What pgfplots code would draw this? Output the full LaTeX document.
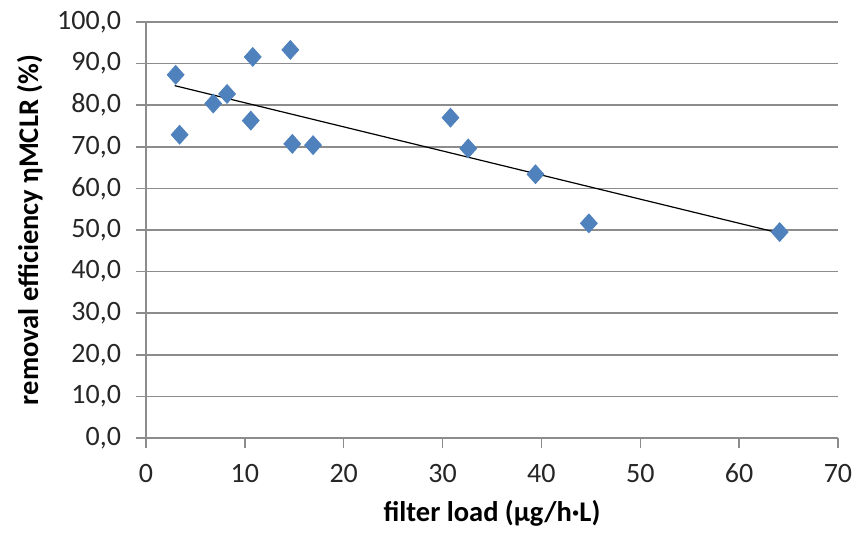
\documentclass[border=0pt]{standalone}
\usepackage{fontspec}
\setmainfont{Carlito}
\usepackage{pgfplots}
\pgfplotsset{compat=1.18}
\definecolor{mkblue}{HTML}{4F81BD}
\definecolor{gridgray}{HTML}{8C8C8C}
\begin{document}
\begin{tikzpicture}
\useasboundingbox (-73pt,-47.5pt) rectangle (358.5pt,219pt);
\begin{axis}[
  at={(0,0)}, anchor=south west,
  scale only axis, width=346pt, height=208pt,
  xmin=0, xmax=70, ymin=0, ymax=100,
  xtick={0,10,...,70}, ytick={0,10,...,100},
  axis x line*=bottom, axis y line*=left,
  axis line style={gridgray, line width=0.75pt, -},
  ymajorgrids, grid style={gridgray, line width=0.75pt},
  tick align=outside, major tick length=5pt,
  tick style={gridgray, line width=0.75pt},
  /pgf/number format/assume math mode=true,
  yticklabel style={/pgf/number format/.cd, fixed, fixed zerofill, precision=1, use comma, /tikz/.cd, xshift=-4pt},
  xticklabel style={/pgf/number format/.cd, fixed, precision=0, /tikz/.cd, yshift=-4.5pt},
  ticklabel style={font=\fontsize{14}{16}\selectfont, text=black!85},
  xlabel={\textbf{filter load (µg/h·L)}},
  ylabel={\textbf{removal efficiency ηMCLR (\%)}},
  xlabel style={at={(axis description cs:0.5,-0.182)}, anchor=center, font=\fontsize{14.25}{16}\selectfont},
  ylabel style={at={(axis description cs:-0.168,0.5)}, anchor=center, font=\fontsize{14.25}{16}\selectfont},
  clip=false,
]
\addplot[black, line width=0.6pt] coordinates {(2.9,84.7) (64.0,49.3)};
\addplot[only marks, mark=diamond*, mark size=4.7pt, mark options={fill=mkblue, draw=mkblue, xscale=1.19}]
coordinates {
(3.0,87.3) (3.4,72.9) (6.8,80.4) (8.2,82.7) (10.8,91.6) (10.6,76.3)
(14.6,93.3) (14.8,70.7) (16.9,70.4) (30.8,77.0) (32.6,69.6) (39.4,63.4)
(44.8,51.6) (64.1,49.5)
};
\end{axis}
\end{tikzpicture}
\end{document}
